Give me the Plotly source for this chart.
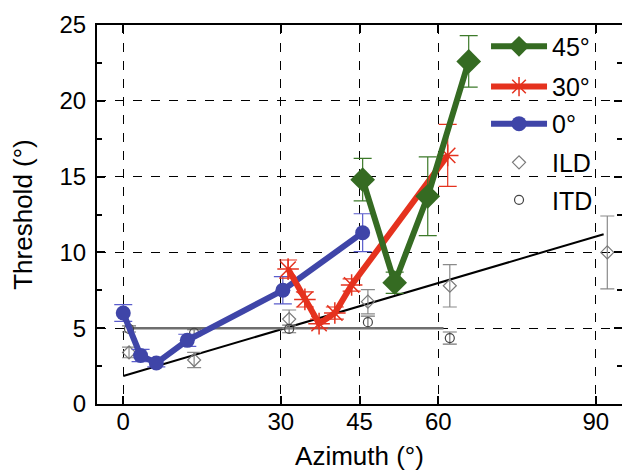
import plotly.graph_objects as go

# ---- data ----
blue_x = [0, 3.3, 6.3, 12.2, 30.4, 45.6]
blue_y = [6.0, 3.2, 2.7, 4.2, 7.5, 11.3]
blue_err = [0.55, 0.4, 0.25, 0.4, 0.9, 1.25]

red_x = [31.4, 34.6, 37.3, 40.3, 43.5, 61.8]
red_y = [8.9, 6.9, 5.3, 6.0, 7.85, 16.4]
red_err = [0.6, 0.5, 0.3, 0.4, 0.4, 2.05]

green_x = [45.6, 51.7, 58.0, 65.8]
green_y = [14.8, 8.0, 13.7, 22.6]
green_err = [1.4, 0.7, 2.6, 1.7]

ild_x = [1.1, 13.5, 31.6, 46.6, 62.2, 92.2]
ild_y = [3.4, 2.9, 5.6, 6.75, 7.8, 10.0]
ild_err = [0.35, 0.5, 0.6, 0.8, 1.4, 2.4]

itd_x = [1.1, 13.5, 31.6, 46.6, 62.2]
itd_y = [4.95, 4.7, 4.95, 5.4, 4.35]
itd_err = [0.2, 0.2, 0.25, 0.4, 0.4]

itd_fit_x = [1.1, 61.0]
itd_fit_y = [5.0, 5.0]
ild_fit_x = [0, 91.5]
ild_fit_y = [1.85, 11.2]

x_ticks = [0, 30, 45, 60, 90]
y_ticks = [0, 5, 10, 15, 20, 25]

FONT = "Liberation Sans, Arial, Helvetica, sans-serif"

fig = go.Figure()

fig.add_trace(go.Scatter(x=ild_fit_x, y=ild_fit_y, mode="lines",
                         line=dict(color="black", width=2), showlegend=False))
fig.add_trace(go.Scatter(x=itd_fit_x, y=itd_fit_y, mode="lines",
                         line=dict(color="#6e6e6e", width=2.5), showlegend=False))

fig.add_trace(go.Scatter(
    x=ild_x, y=ild_y, mode="markers", name="ILD", legend="legend4",
    marker=dict(symbol="diamond-open", size=10, color="#7a7a7a", line=dict(width=1.2)),
    error_y=dict(type="data", array=ild_err, color="#8a8a8a", thickness=1.2, width=7)))
fig.add_trace(go.Scatter(
    x=itd_x, y=itd_y, mode="markers", name="ITD", legend="legend5",
    marker=dict(symbol="circle-open", size=9, color="#444444", line=dict(width=1.2)),
    error_y=dict(type="data", array=itd_err, color="#777777", thickness=1.2, width=7)))

fig.add_trace(go.Scatter(
    x=blue_x, y=blue_y, mode="lines+markers", name="0°", legend="legend3",
    line=dict(color="#3f45a8", width=6),
    marker=dict(symbol="circle", size=15, color="#3f45a8"),
    error_y=dict(type="data", array=blue_err, color="#5a5ccc", thickness=1.2, width=9)))
fig.add_trace(go.Scatter(
    x=red_x, y=red_y, mode="lines+markers", name="30°", legend="legend2",
    line=dict(color="#e5321e", width=6),
    marker=dict(symbol="asterisk-open", size=18, color="#e5321e",
                line=dict(color="#e5321e", width=1.5)),
    error_y=dict(type="data", array=red_err, color="#e5321e", thickness=1.2, width=9)))
fig.add_trace(go.Scatter(
    x=green_x, y=green_y, mode="lines+markers", name="45°", legend="legend",
    line=dict(color="#356b22", width=6),
    marker=dict(symbol="diamond", size=19, color="#356b22"),
    error_y=dict(type="data", array=green_err, color="#3d7a2a", thickness=1.2, width=9)))

axis_common = dict(
    showline=True, linecolor="black", linewidth=2, mirror="ticks",
    ticks="inside", ticklen=8, tickwidth=2, tickcolor="black",
    showgrid=True, gridcolor="black", gridwidth=1, griddash="dash",
    zeroline=False, automargin=False,
    tickfont=dict(family=FONT, size=24, color="black"),
)

fig.update_xaxes(range=[-5, 95], tickvals=x_ticks, ticktext=[str(v) for v in x_ticks],
                 ticklabelstandoff=-5,
                 title=dict(text="Azimuth (°)", font=dict(family=FONT, size=26, color="black"), standoff=16),
                 **axis_common)
fig.update_yaxes(range=[0, 25], tickvals=y_ticks, ticktext=[str(v) for v in y_ticks],
                 ticklabelstandoff=4,
                 minor=dict(ticks="inside", dtick=2.5, tick0=0, ticklen=5, tickwidth=2, tickcolor="black", showgrid=False),
                 title=dict(text="Threshold (°)", font=dict(family=FONT, size=26, color="black"), standoff=20),
                 **axis_common)

leg_common = dict(x=0.741, xanchor="left", yanchor="middle",
                  bgcolor="rgba(0,0,0,0)", itemwidth=56,
                  font=dict(family=FONT, size=25, color="black"))

# page body has an 8px default margin; size/margins compensate for it
fig.update_layout(
    width=622, height=463,
    margin=dict(l=89, r=8, t=17, b=67),
    paper_bgcolor="white", plot_bgcolor="white",
    font=dict(family=FONT, size=24, color="black"),
    legend=dict(y=0.943, **leg_common),
    legend2=dict(y=0.837, **leg_common),
    legend3=dict(y=0.739, **leg_common),
    legend4=dict(y=0.637, **leg_common),
    legend5=dict(y=0.538, **leg_common),
)

fig.write_html("out.html")
